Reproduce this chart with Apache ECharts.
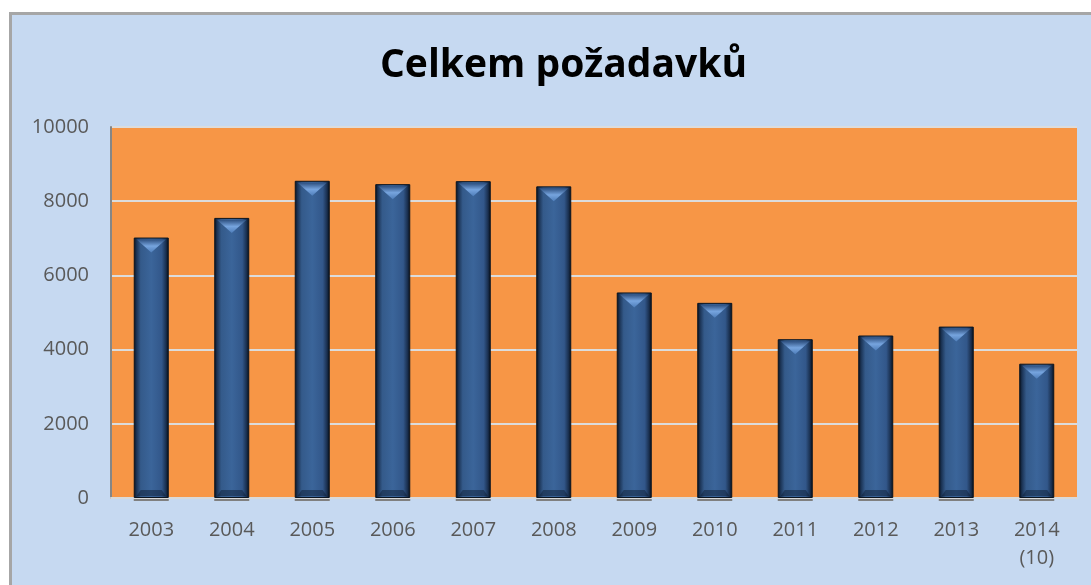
<!DOCTYPE html>
<html>
<head>
<meta charset="utf-8">
<script src="https://cdn.jsdelivr.net/npm/echarts@6/dist/echarts.min.js"></script>
<style>
  html,body{margin:0;padding:0;background:#ffffff;width:1091px;height:585px;overflow:hidden;}
  #frame{position:absolute;left:9px;top:12px;width:1100px;height:600px;box-sizing:border-box;border-left:3px solid #a6a6a6;border-top:3px solid #a6a6a6;background:#c6d9f1;}
  #chart{position:absolute;left:0;top:0;width:1091px;height:585px;}
</style>
</head>
<body>
<div id="frame"></div>
<div id="chart"></div>
<script>
const categories = ['2003','2004','2005','2006','2007','2008','2009','2010','2011','2012','2013','2014\n(10)'];
const values = [7020, 7550, 8550, 8460, 8540, 8400, 5540, 5260, 4280, 4380, 4620, 3620];
const yTicks = [0, 2000, 4000, 6000, 8000, 10000];
const titleText = 'Celkem požadavků';

const BAR_RATIO = 0.435;
const chart = echarts.init(document.getElementById('chart'), null, {renderer: 'canvas'});
const barGradient = new echarts.graphic.LinearGradient(0, 0, 1, 0, [
  {offset: 0, color: '#07101c'},
  {offset: 0.08, color: '#1b3354'},
  {offset: 0.2, color: '#345a8a'},
  {offset: 0.5, color: '#3b659a'},
  {offset: 0.8, color: '#32578a'},
  {offset: 0.92, color: '#1a3050'},
  {offset: 1, color: '#050b14'}
]);

chart.setOption({
  animation: false,
  backgroundColor: 'transparent',
  title: {
    text: titleText,
    left: 375,
    top: 41,
    textStyle: {fontFamily: 'Open Sans', fontWeight: 'bold', fontSize: 39, color: '#000000'}
  },
  grid: {left: 111, top: 127, right: 14, bottom: 87, show: true, backgroundColor: '#f79646', borderWidth: 0},
  xAxis: {
    type: 'category',
    data: categories,
    axisLine: {show: true, lineStyle: {color: '#d9d9d9', width: 2}},
    axisTick: {show: false},
    axisLabel: {fontFamily: 'Open Sans', fontSize: 20, color: '#595959', margin: 18, lineHeight: 28, interval: 0}
  },
  yAxis: {
    type: 'value',
    min: yTicks[0],
    max: yTicks[yTicks.length - 1],
    interval: yTicks[1] - yTicks[0],
    axisLine: {show: true, lineStyle: {color: '#868686', width: 2}},
    axisTick: {show: false},
    axisLabel: {fontFamily: 'Open Sans', fontSize: 20, color: '#595959', margin: 22, formatter: v => String(v)},
    splitLine: {show: true, lineStyle: {color: '#dcdcdc', width: 2}}
  },
  series: [
    {
      type: 'bar',
      data: values,
      barWidth: (BAR_RATIO * 100) + '%',
      itemStyle: {color: barGradient, borderColor: '#0a1420', borderWidth: 1},
      z: 2
    },
    {
      type: 'custom',
      data: values.map((v, i) => [i, v]),
      z: 3,
      renderItem: function (params, api) {
        const top = api.coord([api.value(0), api.value(1)]);
        const base = api.coord([api.value(0), 0]);
        const w = api.size([1, 0])[0] * BAR_RATIO;
        const l = top[0] - w / 2 + 3, r = top[0] + w / 2 - 3;
        const y0 = top[1] + 2;
        return {
          type: 'group',
          children: [
            {
              type: 'polygon',
              shape: {points: [[l, y0], [r, y0], [top[0], y0 + 13]]},
              style: {fill: new echarts.graphic.LinearGradient(0, 0, 0, 1, [
                {offset: 0, color: '#2e5080'},
                {offset: 0.5, color: '#76a4de'},
                {offset: 1, color: '#4f7eba'}
              ])}
            },
            {
              type: 'polygon',
              shape: {points: [[l, base[1] - 2], [r, base[1] - 2], [r - 4, base[1] - 8], [l + 4, base[1] - 8]]},
              style: {fill: 'rgba(10,25,45,0.45)'}
            },
            {
              type: 'line',
              shape: {x1: l - 3, y1: base[1] + 2, x2: r + 3, y2: base[1] + 2},
              style: {stroke: '#808080', lineWidth: 2}
            }
          ]
        };
      }
    }
  ]
});
</script>
</body>
</html>
